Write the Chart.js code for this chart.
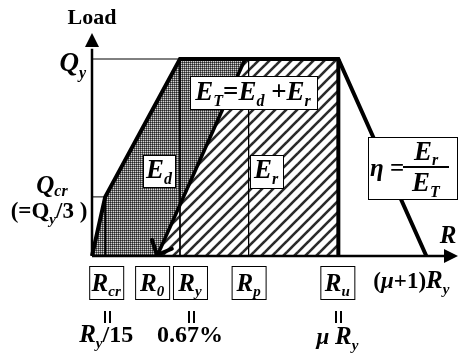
<!DOCTYPE html>
<html>
<head>
<meta charset="utf-8">
<script src="https://cdn.jsdelivr.net/npm/chart.js@4.4.1/dist/chart.umd.min.js"></script>
<style>
  html, body { margin: 0; padding: 0; background: #fff; }
  canvas { display: block; }
</style>
</head>
<body>
<canvas id="chart" width="459" height="360"></canvas>
<script>
// drift in units of R_y, load in units of Q_y
const R_CR = 0.15, R_0 = 0.74, R_Y = 1.0, R_P = 1.78, R_U = 2.8, R_END = 3.8;
const UNLOAD_TOP = 1.74;
const Q_Y = 1.0, Q_CR = 0.3;
const X_MAX = 4.16, Y_MAX = 1.132;

const backbone = [[0, 0], [R_CR, Q_CR], [R_Y, Q_Y], [R_U, Q_Y], [R_END, 0]];
const dissipated = [[0, 0], [R_CR, Q_CR], [R_Y, Q_Y], [UNLOAD_TOP, Q_Y], [R_0, 0], [0, 0]];
const recoverable = [[R_0, 0], [UNLOAD_TOP, Q_Y], [R_U, Q_Y], [R_U, 0], [R_0, 0]];
const unloading = [[UNLOAD_TOP, Q_Y], [R_0, 0]];
const ultimate = [[R_U, Q_Y], [R_U, 0]];
const guides = [
  [[0, Q_Y], [R_Y, Q_Y]],
  [[R_Y, Q_Y], [R_Y, 0]],
  [[R_P, Q_Y], [R_P, 0]],
  [[0, Q_CR], [R_CR, Q_CR]],
  [[R_CR, Q_CR], [R_CR, 0]]
];

// boxed tick labels under the R axis
const tickValues = [R_CR, R_0, R_Y, R_P, R_U];
const tickSubs = ["cr", "0", "y", "p", "u"];
const tickNotes = { 0: "Ry/15", 2: "0.67%", 4: "μRy" };

function font(size, italic) {
  return (italic ? "italic " : "") + "bold " + size + 'px "Liberation Serif", "Times New Roman", serif';
}
const M = (t, s = 24) => ({ t, s, i: true });
const Sb = (t, s = 14, dy = 6) => ({ t, s, i: true, dy });
const N = (t, s = 22) => ({ t, s, i: false });

function rich(ctx, parts, x, y, align) {
  let w = 0;
  parts.forEach(p => { ctx.font = font(p.s, p.i); p.w = ctx.measureText(p.t).width; w += p.w; });
  let cx = align === "left" ? x : align === "right" ? x - w : x - w / 2;
  ctx.textAlign = "left";
  ctx.textBaseline = "alphabetic";
  ctx.fillStyle = "#000";
  parts.forEach(p => { ctx.font = font(p.s, p.i); ctx.fillText(p.t, cx, y + (p.dy || 0)); cx += p.w; });
}

function box(ctx, x, y, w, h) {
  ctx.fillStyle = "#fff";
  ctx.fillRect(x, y, w, h);
  ctx.strokeStyle = "#000";
  ctx.lineWidth = 1;
  ctx.strokeRect(x + 0.5, y + 0.5, w, h);
}

function dotPattern() {
  const c = document.createElement("canvas");
  c.width = c.height = 2;
  const g = c.getContext("2d");
  g.fillStyle = "#666"; g.fillRect(0, 0, 2, 2);
  g.fillStyle = "#262626"; g.fillRect(0, 0, 1, 1);
  g.fillStyle = "#d4d4d4"; g.fillRect(1, 1, 1, 1);
  return g.createPattern(c, "repeat");
}

function hatchPattern() {
  const n = 11;
  const c = document.createElement("canvas");
  c.width = c.height = n;
  const g = c.getContext("2d");
  g.fillStyle = "#fff"; g.fillRect(0, 0, n, n);
  g.strokeStyle = "#2a2a2a"; g.lineWidth = 2.6;
  [-n, 0, n].forEach(o => {
    g.beginPath(); g.moveTo(o - 1, n + 1); g.lineTo(o + n + 1, -1); g.stroke();
  });
  return g.createPattern(c, "repeat");
}

function pts(arr) { return arr.map(([x, y]) => ({ x, y })); }

function line(arr, width, order) {
  return {
    data: pts(arr), showLine: true, borderColor: "#000", borderWidth: width,
    pointRadius: 0, fill: false, clip: false, order, tension: 0,
    borderJoinStyle: "miter", borderCapStyle: "butt"
  };
}

function area(arr, pattern) {
  return {
    data: pts(arr), showLine: true, borderWidth: 0, borderColor: "rgba(0,0,0,0)",
    backgroundColor: pattern, fill: "shape", pointRadius: 0, clip: false, order: 10
  };
}

function arrowHead(ctx, tx, ty, dx, dy, len, half) {
  const L = Math.hypot(dx, dy), ux = dx / L, uy = dy / L;
  const bx = tx - ux * len, by = ty - uy * len;
  ctx.beginPath();
  ctx.moveTo(tx, ty);
  ctx.lineTo(bx - uy * half, by + ux * half);
  ctx.lineTo(bx + uy * half, by - ux * half);
  ctx.closePath();
  ctx.fillStyle = "#000";
  ctx.fill();
}

function equalsMark(ctx, cx, top) {
  ctx.fillStyle = "#000";
  ctx.fillRect(Math.round(cx) - 3, top, 2, 12);
  ctx.fillRect(Math.round(cx) + 2, top, 2, 12);
}

const overlay = {
  id: "overlay",
  afterDraw(chart) {
    const ctx = chart.ctx;
    const px = v => chart.scales.x.getPixelForValue(v);
    const py = v => chart.scales.y.getPixelForValue(v);
    const x0 = px(0), y0 = py(0);
    ctx.save();

    // axis arrows
    arrowHead(ctx, x0, py(Y_MAX), 0, -1, 14, 7);
    arrowHead(ctx, px(X_MAX), y0, 1, 0, 14, 7);

    // open arrow at the end of unloading
    const tx = px(R_0), ty = y0 - 1;
    const dx = px(R_0) - px(UNLOAD_TOP), dy = py(0) - py(Q_Y);
    const L = Math.hypot(dx, dy), ux = dx / L, uy = dy / L;
    ctx.strokeStyle = "#000"; ctx.lineWidth = 4; ctx.lineCap = "round";
    [0.75, -0.75].forEach(a => {
      const c = Math.cos(a), s = Math.sin(a);
      const vx = -(ux * c - uy * s), vy = -(ux * s + uy * c);
      ctx.beginPath(); ctx.moveTo(tx, ty); ctx.lineTo(tx + vx * 16, ty + vy * 16); ctx.stroke();
    });

    // axis titles
    rich(ctx, [N("Load", 22)], x0, 24);
    rich(ctx, [M("Q", 27), Sb("y", 16, 7)], x0 - 6, 71, "right");
    rich(ctx, [M("Q", 25), Sb("cr", 16, 3)], x0 - 40, 193);
    rich(ctx, [N("(=", 23), N("Q", 23), Sb("y", 15, 6), N("/3 )", 23)], x0 - 43, 218);
    rich(ctx, [M("R", 25)], px(X_MAX) - 10, 243);
    rich(ctx, [N("(", 23), M("μ", 23), N("+1)", 23), M("R", 25), Sb("y", 15, 6)], px(R_END) - 53, 288, "left");

    // boxed ticks
    const nudge = [1, -5, 10, 0, -1];
    tickValues.forEach((v, i) => {
      const cx = px(v) + nudge[i];
      box(ctx, cx - 17, y0 + 10, 34, 33);
      rich(ctx, [M("R", 25), Sb(tickSubs[i], 15, 5)], cx, y0 + 35);
      if (tickNotes[i]) {
        equalsMark(ctx, cx + 1, y0 + 55);
        const note = tickNotes[i];
        if (note === "Ry/15") rich(ctx, [M("R", 25), Sb("y", 15, 6), N("/15", 24)], cx, y0 + 86);
        else if (note === "μRy") rich(ctx, [M("μ ", 23), M("R", 25), Sb("y", 15, 6)], cx, y0 + 88);
        else rich(ctx, [N(note, 24)], cx, y0 + 86);
      }
    });

    // energy boxes
    box(ctx, 190, 76, 127, 33);
    rich(ctx, [M("E", 27), Sb("T", 16, 6), N("=", 27), M("E", 27), Sb("d", 16, 6), N(" +", 27), M("E", 27), Sb("r", 16, 6)], 253, 100);
    box(ctx, 143, 155, 32, 32);
    rich(ctx, [M("E", 27), Sb("d", 16, 6)], 159, 178);
    box(ctx, 250, 155, 33, 33);
    rich(ctx, [M("E", 27), Sb("r", 16, 6)], 266, 178);

    box(ctx, 368, 137, 89, 62);
    rich(ctx, [M("η", 25), N(" = ", 25)], 370, 176, "left");
    ctx.fillStyle = "#000";
    ctx.fillRect(403, 166, 46, 2);
    rich(ctx, [M("E", 27), Sb("r", 16, 5)], 426, 160);
    rich(ctx, [M("E", 27), Sb("T", 16, 6)], 426, 191);

    ctx.restore();
  }
};

const datasets = [
  area(dissipated, dotPattern()),
  area(recoverable, hatchPattern()),
  ...guides.map(g => line(g, 1, 5)),
  line([[0, 0], [X_MAX - 0.1, 0]], 2.5, 3),
  line([[0, 0], [0, Y_MAX - 0.08]], 2.5, 3),
  line(ultimate, 4, 2),
  line(unloading, 3.5, 1),
  line(backbone, 4, 1)
];

new Chart(document.getElementById("chart"), {
  type: "scatter",
  data: { datasets },
  options: {
    responsive: false,
    animation: false,
    layout: { padding: { left: 92, right: 1, top: 33, bottom: 104 } },
    scales: {
      x: { type: "linear", min: 0, max: X_MAX, display: false },
      y: { type: "linear", min: 0, max: Y_MAX, display: false }
    },
    plugins: { legend: { display: false }, tooltip: { enabled: false } }
  },
  plugins: [overlay]
});
</script>
</body>
</html>
